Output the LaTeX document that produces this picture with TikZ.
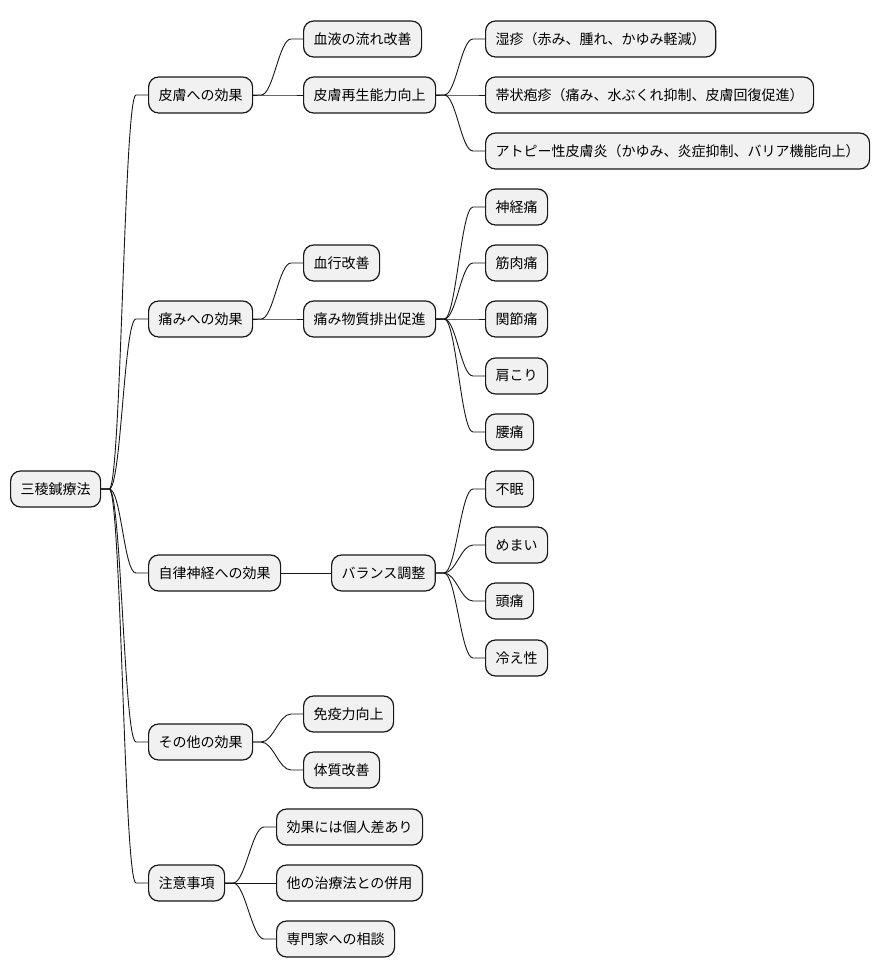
\documentclass[tikz,border=0pt]{standalone}
\usepackage{fontspec}
\newfontfamily\jpfont{Noto Sans CJK JP}
\definecolor{nodefill}{HTML}{F1F1F1}
\definecolor{nodeline}{HTML}{181818}
\tikzset{
  mmnode/.style={draw=nodeline, fill=nodefill, line width=1.2pt, rounded corners=10pt,
    minimum height=36pt, inner xsep=10pt, inner ysep=0pt, anchor=west,
    font=\jpfont\fontsize{14pt}{16pt}\selectfont, text=black},
  mmedge/.style={draw=nodeline, line width=0.9pt}
}
\newcommand\mmlink[2]{\draw[mmedge] (#1.east) -- ++(8,0) .. controls +(12,0) and +(-12,0) .. ([xshift=-12pt]#2.west) -- (#2.west);}
\begin{document}
\begin{tikzpicture}[x=1pt,y=-1pt]
\useasboundingbox[fill=white] (0,0) rectangle (880,978);
% root
\node[mmnode] (root) at (10,489) {三稜鍼療法};
% level 1
\node[mmnode] (a) at (148,95) {皮膚への効果};
\node[mmnode] (b) at (148,319) {痛みへの効果};
\node[mmnode] (c) at (148,573) {自律神経への効果};
\node[mmnode] (d) at (148,742) {その他の効果};
\node[mmnode] (e) at (148,883) {注意事項};
% level 2
\node[mmnode] (a1) at (303,39) {血液の流れ改善};
\node[mmnode] (a2) at (303,95) {皮膚再生能力向上};
\node[mmnode] (b1) at (303,263) {血行改善};
\node[mmnode] (b2) at (303,319) {痛み物質排出促進};
\node[mmnode] (c1) at (331,573) {バランス調整};
\node[mmnode] (d1) at (303,714) {免疫力向上};
\node[mmnode] (d2) at (303,770) {体質改善};
\node[mmnode] (e1) at (276,827) {効果には個人差あり};
\node[mmnode] (e2) at (276,883) {他の治療法との併用};
\node[mmnode] (e3) at (276,939) {専門家への相談};
% level 3
\node[mmnode] (a21) at (485,39) {湿疹（赤み、腫れ、かゆみ軽減）};
\node[mmnode] (a22) at (485,95) {帯状疱疹（痛み、水ぶくれ抑制、皮膚回復促進）};
\node[mmnode] (a23) at (485,151) {アトピー性皮膚炎（かゆみ、炎症抑制、バリア機能向上）};
\node[mmnode] (b21) at (485,207) {神経痛};
\node[mmnode] (b22) at (485,263) {筋肉痛};
\node[mmnode] (b23) at (485,319) {関節痛};
\node[mmnode] (b24) at (485,376) {肩こり};
\node[mmnode] (b25) at (485,432) {腰痛};
\node[mmnode] (c11) at (485,489) {不眠};
\node[mmnode] (c12) at (485,545) {めまい};
\node[mmnode] (c13) at (485,601) {頭痛};
\node[mmnode] (c14) at (485,658) {冷え性};
% edges
\mmlink{root}{a}\mmlink{root}{b}\mmlink{root}{c}\mmlink{root}{d}\mmlink{root}{e}
\mmlink{a}{a1}\mmlink{a}{a2}
\mmlink{b}{b1}\mmlink{b}{b2}
\draw[mmedge] (c.east) -- (c1.west);
\mmlink{d}{d1}\mmlink{d}{d2}
\mmlink{e}{e1}\mmlink{e}{e2}\mmlink{e}{e3}
\mmlink{a2}{a21}\mmlink{a2}{a22}\mmlink{a2}{a23}
\mmlink{b2}{b21}\mmlink{b2}{b22}\mmlink{b2}{b23}\mmlink{b2}{b24}\mmlink{b2}{b25}
\mmlink{c1}{c11}\mmlink{c1}{c12}\mmlink{c1}{c13}\mmlink{c1}{c14}
\end{tikzpicture}
\end{document}
